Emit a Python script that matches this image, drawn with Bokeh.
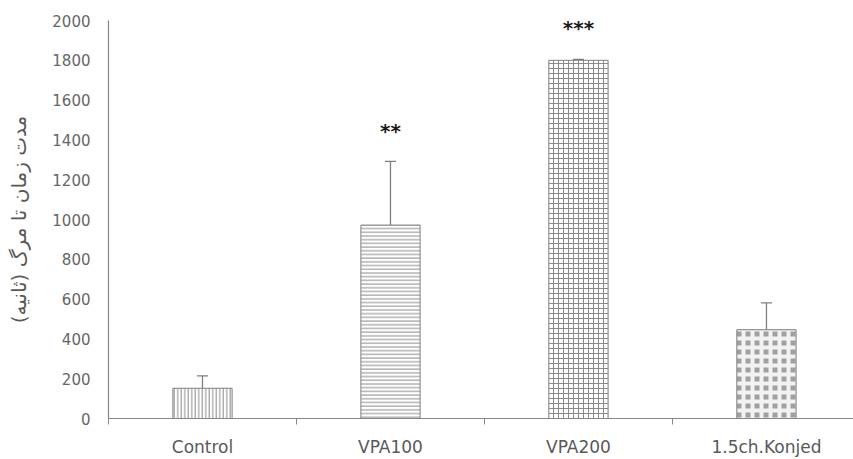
from bokeh.plotting import figure
from bokeh.models import ColumnDataSource, FixedTicker, Whisker, TeeHead, Range1d
from bokeh.core.properties import value
from bokeh.embed import file_html
from bokeh.resources import INLINE

categories = ["Control", "VPA100", "VPA200", "1.5ch.Konjed"]
means = [152, 972, 1800, 446]
errors = [62, 320, 5, 135]
stars = ["", "**", "***", ""]
y_label = "مدت زمان تا مرگ (ثانیه)"
y_ticks = list(range(0, 2001, 200))

xs = list(range(len(categories)))
src = ColumnDataSource(dict(
    x=xs,
    top=means,
    upper=[m + e for m, e in zip(means, errors)],
    lower=[m - e for m, e in zip(means, errors)],
    hatch=["vertical_line", "horizontal_line", "cross", "cross"],
    hscale=[3.5, 3.7, 5.0, 9.0],
    hweight=[1.0, 1.0, 1.0, 4.0],
    hcolor=["#8a8a8a", "#8a8a8a", "#8a8a8a", "#f2f2f2"],
    fcolor=["white", "white", "white", "#a0a0a0"],
))

star_src = ColumnDataSource(dict(
    x=xs,
    y=[m + e + 155 for m, e in zip(means, errors)],
    t=stars,
))

p = figure(width=853, height=459, output_backend="svg", toolbar_location=None,
           x_range=Range1d(-0.5, 3.463), y_range=Range1d(0, 2000),
           min_border_left=108, min_border_right=0, min_border_top=20, min_border_bottom=40)
p.outline_line_color = None
p.xgrid.grid_line_color = None
p.ygrid.grid_line_color = None
p.background_fill_color = "white"
p.border_fill_color = "white"

p.vbar(x="x", top="top", width=0.315, bottom=0, source=src,
       fill_color="fcolor", line_color="#7f7f7f", line_width=1,
       hatch_pattern="hatch", hatch_scale="hscale", hatch_weight="hweight",
       hatch_color="hcolor")

w = Whisker(base="x", upper="upper", lower="lower", source=src,
            line_color="#7f7f7f", line_width=1.3,
            upper_head=TeeHead(size=11, line_color="#7f7f7f", line_width=1.3),
            lower_head=TeeHead(size=11, line_color="#7f7f7f", line_width=1.3))
p.add_layout(w)

p.text(x="x", y="y", text="t", source=star_src, text_align="center",
       text_baseline="middle", text_font=value("DejaVu Sans"),
       text_font_size="20px", text_font_style="bold", text_color="#1a1a1a")

xa = p.xaxis[0]
xa.ticker = FixedTicker(ticks=xs, minor_ticks=[-0.5, 0.5, 1.5, 2.5, 3.5])
xa.major_label_overrides = {i: c for i, c in enumerate(categories)}
xa.major_tick_out = 0
xa.major_tick_in = 0
xa.minor_tick_out = 6
xa.minor_tick_in = 0
xa.minor_tick_line_color = "#868686"
xa.axis_line_color = "#868686"
xa.axis_line_width = 1.2
xa.major_label_standoff = 12
xa.major_label_text_font = "DejaVu Sans"
xa.major_label_text_font_size = "17px"
xa.major_label_text_color = "#595959"

ya = p.yaxis[0]
ya.ticker = FixedTicker(ticks=y_ticks)
ya.major_tick_out = 0
ya.major_tick_in = 0
ya.minor_tick_out = 0
ya.minor_tick_in = 0
ya.axis_line_color = "#868686"
ya.axis_line_width = 1.2
ya.major_label_standoff = 18
ya.major_label_text_font = "DejaVu Sans"
ya.major_label_text_font_size = "15px"
ya.major_label_text_color = "#666666"
ya.axis_label = y_label
ya.axis_label_text_font = "DejaVu Sans"
ya.axis_label_text_font_size = "20px"
ya.axis_label_text_font_style = "normal"
ya.axis_label_text_color = "#595959"
ya.axis_label_standoff = 18

open("out.html", "w").write(file_html(p, INLINE))
